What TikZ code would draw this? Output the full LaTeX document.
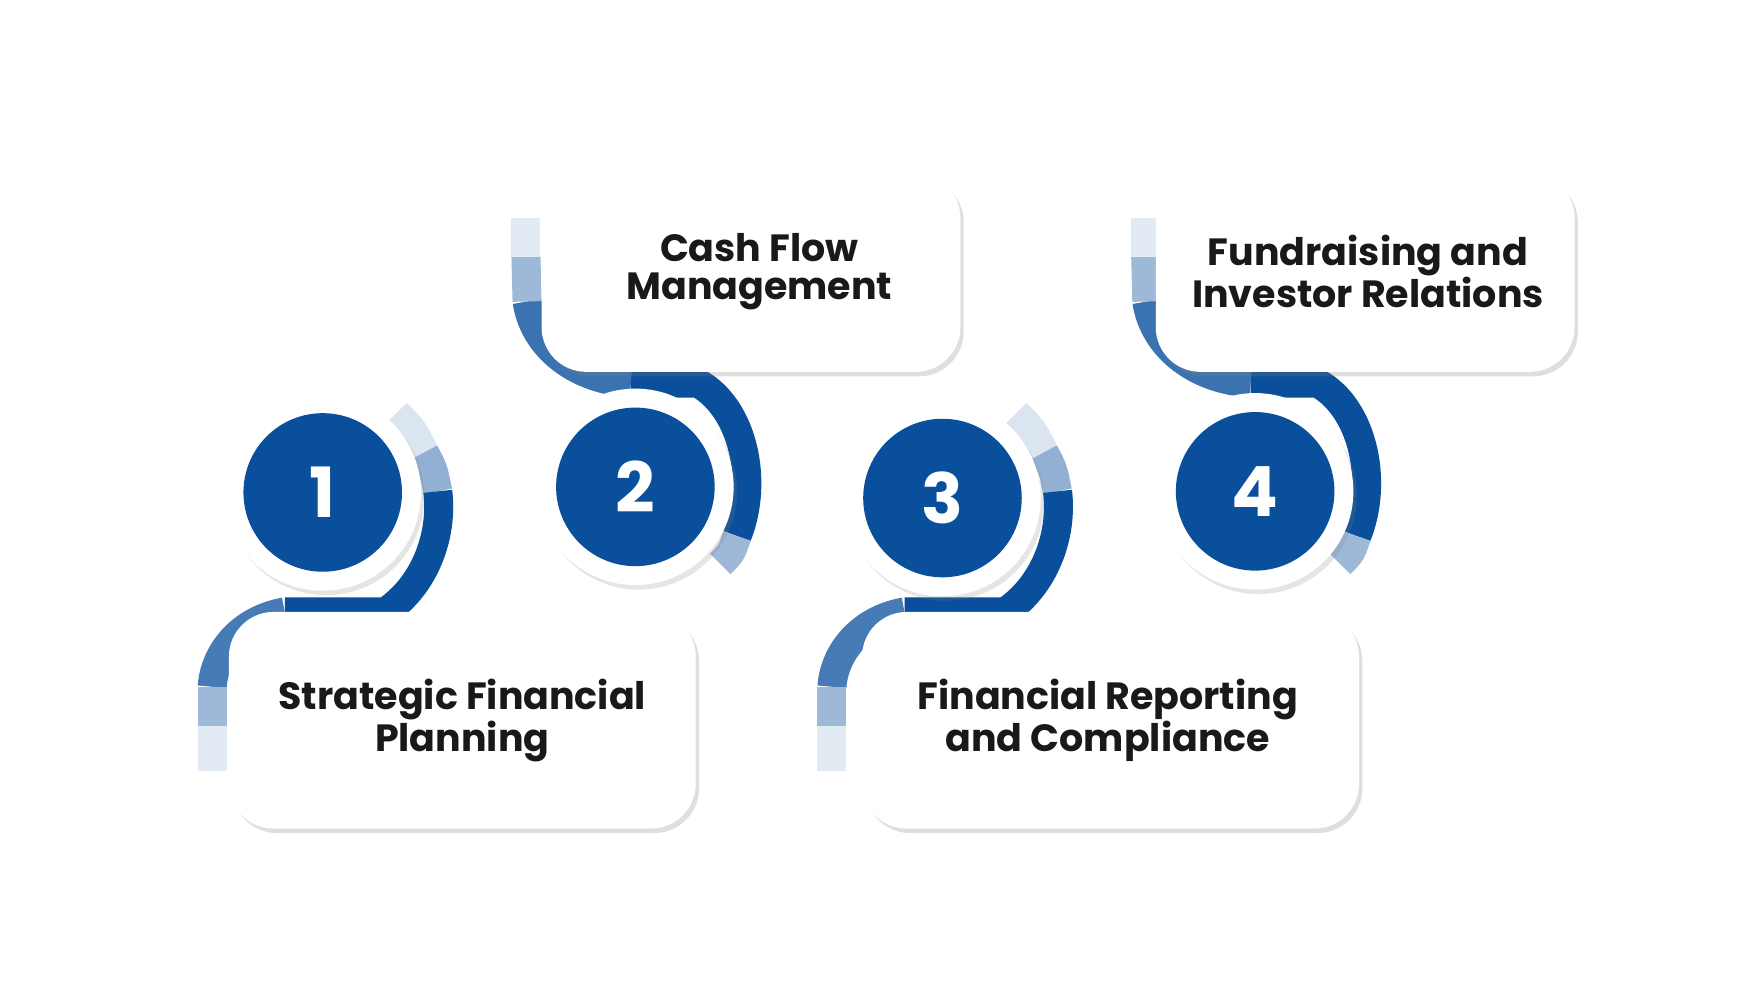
\documentclass[tikz,border=0pt]{standalone}
\usepackage{fontspec}
\setmainfont{Poppins}
\usetikzlibrary{shadows,fadings}
\definecolor{navy}{HTML}{0A4F9C}
\tikzset{
 ribbon/.style={line width=26pt, draw=navy},
 outer/.style={circle, fill=white, minimum size=176pt, drop shadow={shadow xshift=3pt,shadow yshift=-4pt,opacity=.2}},
 inner/.style={circle, fill=navy, minimum size=142pt, text=white, font=\bfseries\fontsize{62}{62}\selectfont},
 card/.style={rounded corners=40pt, fill=white, drop shadow={shadow xshift=3pt,shadow yshift=-4pt,opacity=.25}},
 lbl/.style={align=center, font=\bfseries\fontsize{34}{34}\selectfont, text=black!90}
}
\begin{document}
\begin{tikzpicture}[x=1pt,y=-1pt]
\useasboundingbox (0,0) rectangle (1560,878);
\fill[white] (0,0) rectangle (1560,878);
% ribbons
\foreach \dx in {0,555}{
 \begin{scope}[xshift=\dx pt]
 \draw[ribbon, draw=navy!15] (355,370) .. controls (370,385) .. (380,405);
 \draw[ribbon, draw=navy!45] (380,405) .. controls (388,420) .. (392,440);
 \draw[ribbon] (392,440) .. controls (397,480) and (380,525) .. (345,548) -- (255,548);
 \draw[ribbon, draw=navy!75] (255,548) .. controls (215,555) and (192,585) .. (190,615);
 \draw[ribbon, draw=navy!40] (190,615) -- (190,650);
 \draw[ribbon, draw=navy!12] (190,650) -- (190,690);
 \draw[ribbon] (565,343) -- (625,343) .. controls (665,365) and (680,430) .. (660,480);
 \draw[ribbon, draw=navy!40] (660,480) .. controls (655,495) .. (645,505);
 \draw[ribbon, draw=navy!80] (565,343) .. controls (515,340) and (478,310) .. (472,270);
 \draw[ribbon, draw=navy!40] (472,270) -- (471,230);
 \draw[ribbon, draw=navy!12] (471,230) -- (471,195);
 \end{scope}
}
% cards
\fill[card] (205,548) rectangle (623,742);
\fill[card] (485,155) rectangle (860,333);
\fill[card] (772,548) rectangle (1217,742);
\fill[card] (1035,155) rectangle (1410,333);
\node[lbl] (t1) at (414,645) {Strategic Financial\\Planning};
\node[lbl] (t2) at (680,243) {Cash Flow\\Management};
\node[lbl] (t3) at (992,645) {Financial Reporting\\and Compliance};
\node[lbl] (t4) at (1225,243) {Fundraising and\\Investor Relations};
% circles
\node[outer] (o1) at (289,441) {};
\node[outer] (o2) at (569,436) {};
\node[outer] (o3) at (844,446) {};
\node[outer] (o4) at (1124,440) {};
\node[inner] (c1) at (o1) {1};
\node[inner] (c2) at (o2) {2};
\node[inner] (c3) at (o3) {3};
\node[inner] (c4) at (o4) {4};
\end{tikzpicture}
\end{document}
